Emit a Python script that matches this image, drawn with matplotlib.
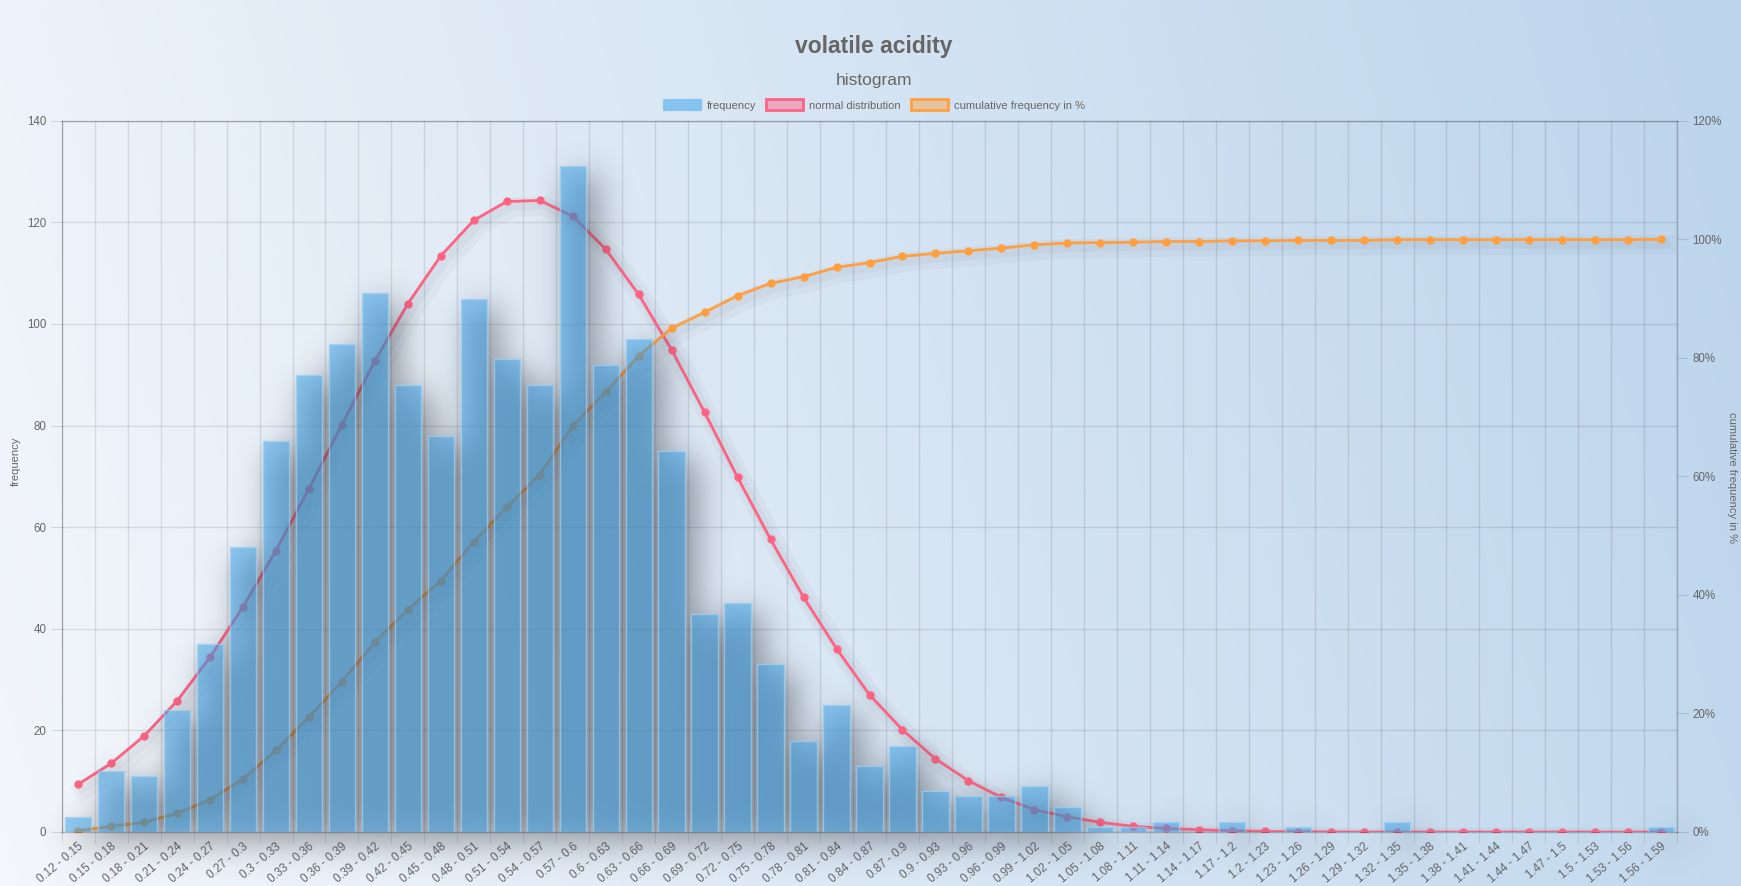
import numpy as np
import matplotlib
matplotlib.use("Agg")
import matplotlib.pyplot as plt
from matplotlib.patches import Patch
from matplotlib import patheffects as pe

plt.rcParams['font.family'] = ['Liberation Sans', 'DejaVu Sans']

# Données
bins = ["0.12 - 0.15", "0.15 - 0.18", "0.18 - 0.21", "0.21 - 0.24", "0.24 - 0.27",
        "0.27 - 0.3", "0.3 - 0.33", "0.33 - 0.36", "0.36 - 0.39", "0.39 - 0.42",
        "0.42 - 0.45", "0.45 - 0.48", "0.48 - 0.51", "0.51 - 0.54", "0.54 - 0.57",
        "0.57 - 0.6", "0.6 - 0.63", "0.63 - 0.66", "0.66 - 0.69", "0.69 - 0.72",
        "0.72 - 0.75", "0.75 - 0.78", "0.78 - 0.81", "0.81 - 0.84", "0.84 - 0.87",
        "0.87 - 0.9", "0.9 - 0.93", "0.93 - 0.96", "0.96 - 0.99", "0.99 - 1.02",
        "1.02 - 1.05", "1.05 - 1.08", "1.08 - 1.11", "1.11 - 1.14", "1.14 - 1.17",
        "1.17 - 1.2", "1.2 - 1.23", "1.23 - 1.26", "1.26 - 1.29", "1.29 - 1.32",
        "1.32 - 1.35", "1.35 - 1.38", "1.38 - 1.41", "1.41 - 1.44", "1.44 - 1.47",
        "1.47 - 1.5", "1.5 - 1.53", "1.53 - 1.56", "1.56 - 1.59"]

frequency = [3, 12, 11, 24, 37, 56, 77, 90, 96, 106,
             88, 78, 105, 93, 88, 131, 92, 97, 75, 43,
             45, 33, 18, 25, 13, 17, 8, 7, 7, 9,
             5, 1, 1, 2, 0, 2, 0, 1, 0, 0,
             2, 0, 0, 0, 0, 0, 0, 0, 1]

normal_distribution = [9.4, 13.5, 18.9, 25.8, 34.4, 44.3, 55.4, 67.6, 80.2, 92.7,
                       104.0, 113.4, 120.4, 124.1, 124.3, 121.2, 114.7, 105.8, 94.9, 82.6,
                       69.8, 57.6, 46.2, 36.1, 27.0, 20.1, 14.4, 10.1, 6.8, 4.4,
                       3.0, 1.9, 1.1, 0.7, 0.45, 0.25, 0.12, 0.06, 0.03, 0.01,
                       0, 0, 0, 0, 0, 0, 0, 0, 0]

cumulative_pct = [0.19, 0.94, 1.63, 3.13, 5.44, 8.94, 13.76, 19.39, 25.39, 32.02,
                  37.52, 42.40, 48.97, 54.78, 60.29, 68.48, 74.23, 80.30, 84.99, 87.68,
                  90.49, 92.56, 93.68, 95.25, 96.06, 97.12, 97.62, 98.06, 98.50, 99.06,
                  99.37, 99.44, 99.50, 99.62, 99.62, 99.75, 99.75, 99.81, 99.81, 99.81,
                  99.94, 99.94, 99.94, 99.94, 99.94, 99.94, 99.94, 99.94, 100.0]

W, H = 1741, 886
fig = plt.figure(figsize=(W / 100, H / 100), dpi=100)

# Fond en dégradé
bg = fig.add_axes([0, 0, 1, 1], zorder=-10)
gx, gy = np.meshgrid(np.linspace(0, 1, 400), np.linspace(0, 1, 200))
t = np.clip(0.88 * gx + 0.12 * (1 - gy), 0, 1)[..., None]
c0 = np.array([0.955, 0.968, 0.985])
c1 = np.array([0.735, 0.832, 0.925])
bg.imshow(c0 * (1 - t) + c1 * t, aspect='auto', extent=(0, 1, 0, 1), interpolation='bilinear')
bg.axis('off')

# Axes
ax = fig.add_axes([61.7 / W, 1 - 832 / H, (1677.3 - 61.7) / W, (832 - 120.7) / H])
ax.patch.set_visible(False)
ax2 = ax.twinx()
ax2.patch.set_visible(False)

n = len(bins)
x = np.arange(n)
grid_c = (0, 0, 0, 0.12)

ax.set_xlim(-0.5, n - 0.5)
ax.set_ylim(0, 140)
ax2.set_ylim(0, 120)

# Ombres légères des courbes
line_shadow = [pe.SimpleLineShadow(offset=(4, -4), shadow_color=(0.2, 0.2, 0.25), alpha=0.035,
                                   linewidth=14),
               pe.SimpleLineShadow(offset=(3, -3), shadow_color=(0.2, 0.2, 0.25), alpha=0.04,
                                   linewidth=7),
               pe.Normal()]

ax.plot(x, normal_distribution, color='#ff6384', lw=2, zorder=2, path_effects=line_shadow)
ax.plot(x, normal_distribution, 'o', color='#ff6384', ms=5, zorder=2)
ax.plot(x, cumulative_pct, color='#ff9f40', lw=2, zorder=2,
        transform=ax2.transData, path_effects=line_shadow)
ax.plot(x, cumulative_pct, 'o', color='#ff9f40', ms=5, zorder=2, transform=ax2.transData)

# Ombre floue des barres, décalée vers le bas à droite
bar_w = 0.8
nxp, nyp = 20, 4
x_lo, x_hi = -1.5, n + 1.5
y_lo, y_hi = -14, 150
off_x, off_y = 0.3, -2.0
mask = np.zeros((int((y_hi - y_lo) * nyp), int((x_hi - x_lo) * nxp)))
for i, v in enumerate(frequency):
    c0_ = int(round((i - bar_w / 2 + off_x - x_lo) * nxp))
    c1_ = int(round((i + bar_w / 2 + off_x - x_lo) * nxp))
    r0 = int(round((off_y - y_lo) * nyp))
    r1 = int(round((v + off_y - y_lo) * nyp))
    mask[r0:r1, c0_:c1_] = 1


def blur(a, sigma, axis):
    k = np.exp(-0.5 * (np.arange(-3 * sigma, 3 * sigma + 1) / sigma) ** 2)
    k /= k.sum()
    return np.apply_along_axis(lambda m: np.convolve(m, k, mode='same'), axis, a)


soft = blur(blur(mask, 10, 1), 13, 0)
shadow = np.zeros(mask.shape + (4,))
shadow[..., :3] = (0.22, 0.23, 0.26)
shadow[..., 3] = 0.6 * soft
ax.imshow(shadow, extent=(x_lo, x_hi, y_lo, y_hi), origin='lower', aspect='auto',
          zorder=2.5, interpolation='bilinear', clip_on=False)

ax.bar(x, frequency, width=bar_w, color=(54 / 255, 162 / 255, 235 / 255, 0.5),
       edgecolor=(0.62, 0.82, 0.96, 0.7), linewidth=1, zorder=3)

ax.set_xlim(-0.5, n - 0.5)
ax.set_ylim(0, 140)

# Graduations et quadrillage
ax.set_xticks(x)
ax.set_xticklabels(bins, rotation=40, ha='right', va='top', rotation_mode='anchor',
                   fontsize=8.4, color='#666666')
ax.set_xticks(np.arange(-0.5, n, 1), minor=True)
ax.tick_params(axis='x', which='major', length=0, pad=6)
ax.tick_params(axis='x', which='minor', length=8, color=grid_c)
ax.grid(which='minor', axis='x', color='black', alpha=0.1, lw=1)
ax.set_yticks(np.arange(0, 141, 20))
ax.grid(which='major', axis='y', color='black', alpha=0.1, lw=1)
ax.tick_params(axis='y', length=8, color=grid_c, labelsize=8.3, labelcolor='#666666', pad=3)
ax.set_axisbelow(True)

ax2.set_yticks(np.arange(0, 121, 20))
ax2.set_yticklabels([f"{v}%" for v in range(0, 121, 20)])
ax2.tick_params(axis='y', length=8, color=grid_c, labelsize=8.3, labelcolor='#666666', pad=3)

for a in (ax, ax2):
    for s in a.spines.values():
        s.set_color((0, 0, 0, 0.12))
        s.set_linewidth(1)

# Titres
fig.text(874 / W, 1 - 47 / H, "volatile acidity", ha='center', va='center',
         fontsize=16.5, fontweight='bold', color='#666666')
fig.text(874 / W, 1 - 81 / H, "histogram", ha='center', va='center',
         fontsize=12.5, color='#666666')
fig.text(16 / W, 1 - 461 / H, "frequency", rotation=90, ha='center', va='center',
         fontsize=8, color='#666666')
fig.text(1732 / W, 1 - 477 / H, "cumulative frequency in %", rotation=270,
         ha='center', va='center', fontsize=8, color='#666666')

# Légende
handles = [Patch(facecolor=(54 / 255, 162 / 255, 235 / 255, 0.5),
                 edgecolor=(54 / 255, 162 / 255, 235 / 255, 0.3), lw=1, label="frequency"),
           Patch(facecolor=(1, 99 / 255, 132 / 255, 0.45), edgecolor='#ff6384', lw=2,
                 label="normal distribution"),
           Patch(facecolor=(1, 159 / 255, 64 / 255, 0.45), edgecolor='#ff9f40', lw=2,
                 label="cumulative frequency in %")]
fig.legend(handles=handles, loc='center', bbox_to_anchor=(874 / W, 1 - 105 / H), ncol=3,
           frameon=False, fontsize=8, handlelength=3.4, handleheight=1.1,
           handletextpad=0.5, columnspacing=0.9, labelcolor='#666666')

fig.savefig("out.png", dpi=100)
